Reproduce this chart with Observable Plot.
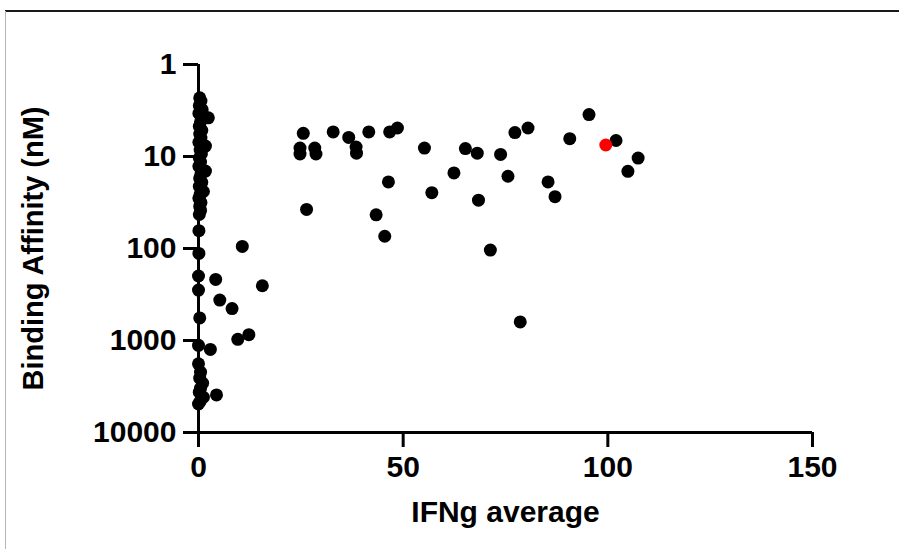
<!DOCTYPE html>
<html>
<head>
<meta charset="utf-8">
<script src="https://cdn.jsdelivr.net/npm/d3@7"></script>
<script src="https://cdn.jsdelivr.net/npm/@observablehq/plot@0.6"></script>
<style>
  html, body { margin: 0; padding: 0; background: #fff; }
  #wrap { position: relative; width: 899px; height: 549px; overflow: hidden; }
  #frameTop { position: absolute; left: 5px; top: 10px; width: 894px; height: 0; border-top: 2px solid #1a1a1a; }
  #frameLeft { position: absolute; left: 5px; top: 11px; width: 0; height: 538px; border-left: 1px solid #b5b5b5; }
  svg { position: absolute; left: 0; top: 0; }
</style>
</head>
<body>
<div id="wrap"><div id="frameTop"></div><div id="frameLeft"></div></div>
<script>
// IFNg average (x) and binding affinity in nM (y), black points
const ifng = [
  0.3, 0.6, 0.2, 0.9, 0.1, 2.4, 0.5, 0.2, 0.8, 0.3, 0.6, 0.1, 1.7, 0.4, 0.7,
  0.2, 0.5, 0.1, 1.7, 0.6, 0.3, 0.8, 0.2, 1.2, 0.4, 0.1, 0.6, 0.3, 0.5, 0.2,
  0.1, 0.1, 0.0, 0.0, 0.3, 0.0, 0.0, 0.5, 0.3, 1.0, 0.5, 0.2, 1.2, 0.4, 0.0,
  25.6, 32.9, 36.7, 41.6, 46.7, 48.6, 24.8, 24.8, 28.4, 28.7, 38.5, 38.6,
  55.2, 65.2, 68.1, 73.8, 77.3, 80.5, 95.4, 90.7, 102.0, 107.4, 104.9,
  75.6, 85.4, 87.1, 46.4, 62.4, 57.0, 68.4, 26.4, 43.4, 45.5, 71.3, 78.6,
  10.7, 4.2, 15.6, 5.2, 8.2, 12.3, 9.6, 2.9, 4.4
];
const affinity = [
  2.3, 2.5, 2.8, 3.1, 3.4, 3.8, 4.2, 4.7, 5.2, 5.7, 6.3, 7.0, 7.7, 8.5, 9.4,
  10.4, 11.5, 12.8, 14.4, 15.6, 17.3, 19.1, 21.1, 24, 25.8, 28.5, 31.6, 34.9, 38.6, 42.7,
  64, 113, 199, 283, 568, 1128, 1792, 2207, 2566, 2911, 3296, 3648, 4140, 4585, 4898,
  5.6, 5.4, 6.2, 5.4, 5.4, 4.9, 8.1, 9.4, 8.1, 9.4, 7.9, 9.2,
  8.1, 8.2, 9.2, 9.5, 5.5, 4.9, 3.5, 6.4, 6.7, 10.4, 14.5,
  16.4, 18.9, 27.3, 18.9, 15.1, 24.7, 29.8, 37.6, 43, 73.6, 104, 628,
  95, 217, 254, 364, 450, 865, 970, 1250, 3900
];
// highlighted (red) point
const highlightIfng = [99.5];
const highlightAffinity = [7.5];

const xTicks = [0, 50, 100, 150];
const yTicks = [1, 10, 100, 1000, 10000];
const xLabel = "IFNg average";
const yLabel = "Binding Affinity (nM)";

const points = ifng.map((x, i) => ({x, y: affinity[i]}));
const highlight = highlightIfng.map((x, i) => ({x, y: highlightAffinity[i]}));

const chart = Plot.plot({
  width: 899,
  height: 549,
  marginLeft: 198,
  marginRight: 87,
  marginTop: 64,
  marginBottom: 117,
  style: {fontFamily: "'Liberation Sans', Arial, sans-serif", fontSize: "30px", fontWeight: "bold", background: "transparent", color: "#000"},
  x: {domain: [0, 150]},
  y: {type: "log", domain: [1, 10000], reverse: true},
  marks: [
    Plot.axisX({ticks: xTicks, tickSize: 15, tickPadding: 8, strokeWidth: 3, label: null, tickFormat: d => String(d)}),
    Plot.axisY({ticks: yTicks, tickSize: 15, tickPadding: 7, strokeWidth: 3, label: null, tickFormat: d => String(d)}),
    Plot.ruleX([0], {y1: 1, y2: 10000, strokeWidth: 3, stroke: "#000"}),
    Plot.ruleY([10000], {x1: 0, x2: 150, strokeWidth: 3, stroke: "#000"}),
    Plot.dot(points, {x: "x", y: "y", r: 6.5, fill: "#000", stroke: null}),
    Plot.dot(highlight, {x: "x", y: "y", r: 6.5, fill: "#ff0000", stroke: null}),
    Plot.text([xLabel], {frameAnchor: "bottom", dy: 80, fontSize: 30, fontWeight: "bold", lineAnchor: "middle", textAnchor: "middle"}),
    Plot.text([yLabel], {frameAnchor: "left", dx: -165, rotate: -90, fontSize: 29, fontWeight: "bold", lineAnchor: "middle", textAnchor: "middle"})
  ]
});
document.getElementById("wrap").appendChild(chart);
</script>
</body>
</html>
